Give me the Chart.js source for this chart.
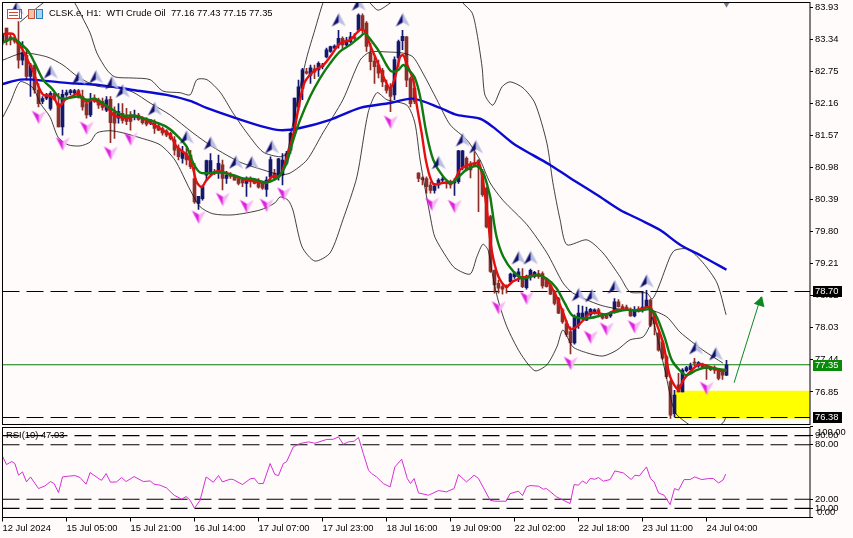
<!DOCTYPE html>
<html>
<head>
<meta charset="utf-8">
<title>CLSK.e H1</title>
<script src="https://cdn.jsdelivr.net/npm/chart.js@4/dist/chart.umd.min.js"></script>
<style>
  html, body { margin: 0; padding: 0; background: #fffbfb; overflow: hidden; }
  canvas { position: absolute; left: 0; }
  #main { top: 0; }
  #rsi { top: 424px; }
</style>
</head>
<body>
<canvas id="main" width="853" height="427"></canvas>
<canvas id="rsi" width="853" height="114"></canvas>
<script>
const opens = [
  83.28,83.55,83.39,83.35,83.27,82.96,83.05,82.66,82.87,82.41,
  82.20,82.26,82.07,82.35,82.16,81.73,82.32,82.36,82.35,82.40,
  82.29,82.16,81.95,82.26,82.23,82.20,82.04,82.24,82.01,81.89,
  81.98,81.92,81.95,81.91,81.95,81.89,81.87,81.80,81.80,81.75,
  81.70,81.66,81.61,81.49,81.34,81.15,81.24,81.21,80.78,80.32,
  80.41,80.84,80.88,80.91,80.91,81.03,80.78,80.85,80.81,80.78,
  80.75,80.69,80.78,80.75,80.72,80.69,80.58,80.81,80.88,80.81,
  80.84,81.06,81.30,81.64,82.10,82.44,82.75,82.68,82.80,82.78,
  82.84,83.02,83.12,83.18,83.24,83.36,83.24,83.30,83.39,83.51,
  83.78,83.64,83.09,82.94,82.87,82.77,82.50,82.46,82.32,83.00,
  83.32,83.39,82.62,82.44,80.88,80.79,80.78,80.66,80.56,80.66,
  80.75,80.72,80.72,80.70,80.72,81.00,81.15,81.03,81.06,81.11,
  80.91,80.60,80.08,79.09,78.85,78.79,78.79,78.88,78.97,78.97,
  78.98,78.77,78.97,78.97,79.03,79.03,78.91,78.82,78.70,78.57,
  78.36,78.11,77.96,77.75,78.08,78.20,78.17,78.27,78.30,78.36,
  78.27,78.25,78.25,78.33,78.51,78.42,78.41,78.36,78.25,78.38,
  78.35,78.42,78.54,78.30,77.93,77.77,77.50,77.04,76.45,76.98,
  76.85,77.24,77.26,77.39,77.33,77.35,77.33,77.30,77.30,77.24,77.24,77.16
]
const highs = [
  83.45,83.55,83.45,83.39,83.67,83.30,83.15,82.90,82.87,82.53,
  82.29,82.35,82.38,82.37,82.35,82.41,82.41,82.42,82.42,82.42,
  82.41,82.23,82.35,82.32,82.26,82.26,82.29,82.29,82.10,82.16,
  82.16,82.07,82.01,82.04,81.98,81.92,81.90,81.86,81.86,81.80,
  81.73,81.68,81.63,81.55,81.40,81.37,81.34,81.30,81.06,80.45,
  80.66,81.12,81.24,80.95,81.21,81.12,80.91,80.89,80.84,80.80,
  80.78,80.81,80.81,80.78,80.78,80.72,80.81,81.18,80.95,81.15,
  81.24,81.28,81.64,82.26,82.59,82.81,82.81,82.87,82.87,82.93,
  82.90,83.18,83.22,83.24,83.51,83.39,83.38,83.47,83.45,83.81,
  83.81,83.67,83.27,83.02,82.96,82.81,82.59,82.53,83.02,83.33,
  83.51,83.40,82.65,82.47,80.89,80.81,80.81,80.72,80.69,80.78,
  80.80,80.75,80.75,80.78,81.30,81.30,81.18,81.09,81.27,81.13,
  80.95,80.62,80.10,79.10,78.91,78.85,78.82,79.04,79.06,79.12,
  79.12,79.00,79.11,79.07,79.09,79.06,78.93,78.84,78.72,78.59,
  78.39,78.17,78.05,78.27,78.45,78.43,78.41,78.39,78.38,78.39,
  78.29,78.28,78.33,78.57,78.55,78.46,78.45,78.40,78.42,78.42,
  78.70,78.72,78.56,78.33,77.95,77.80,77.53,77.07,76.88,77.19,
  77.28,77.32,77.38,77.47,77.41,77.38,77.35,77.32,77.33,77.28,77.26,77.43
]
const lows = [
  83.24,83.24,83.24,83.27,82.81,82.87,82.59,82.29,82.35,82.10,
  82.16,82.23,82.04,82.22,81.73,81.58,82.29,82.32,82.33,82.26,
  82.04,81.89,81.92,82.18,82.07,82.04,82.01,81.44,81.52,81.80,
  81.80,81.77,81.67,81.86,81.85,81.78,81.75,81.77,81.61,81.66,
  81.58,81.55,81.49,81.21,81.12,81.06,81.03,80.96,80.32,80.21,
  80.38,80.75,80.84,80.85,80.78,80.57,80.69,80.78,80.75,80.66,
  80.63,80.45,80.62,80.68,80.60,80.58,80.45,80.75,80.75,80.75,
  80.66,81.03,81.24,81.61,82.04,82.23,82.70,82.53,82.62,82.66,
  82.80,83.00,83.10,83.17,83.18,83.15,83.22,83.27,83.33,83.48,
  83.45,83.12,82.78,82.53,82.63,82.47,82.35,82.01,82.23,82.84,
  83.15,82.47,82.10,82.16,80.72,80.66,80.51,80.51,80.51,80.60,
  80.70,80.60,80.60,80.47,80.69,80.94,80.92,80.79,81.00,80.17,
  80.45,79.87,79.05,78.67,78.67,78.65,78.67,78.86,78.94,78.88,
  78.77,78.74,78.91,78.95,78.94,78.76,78.78,78.64,78.45,78.29,
  78.11,77.87,77.55,77.73,78.02,78.17,78.16,78.21,78.28,78.27,
  78.19,78.20,78.22,78.30,78.41,78.37,78.35,78.24,78.23,78.32,
  78.32,78.40,78.05,77.90,77.60,77.45,77.10,76.36,76.39,76.85,
  76.85,77.22,77.25,77.33,77.30,77.28,77.08,77.24,77.19,77.07,77.08,77.15
]
const closes = [
  83.45,83.30,83.33,83.31,82.96,83.10,82.66,82.87,82.41,82.16,
  82.25,82.32,82.35,82.23,81.73,82.33,82.36,82.40,82.40,82.28,
  82.10,81.95,82.23,82.20,82.13,82.09,82.23,81.81,81.80,82.01,
  81.85,81.83,81.83,81.95,81.87,81.81,81.78,81.86,81.70,81.67,
  81.62,81.58,81.52,81.30,81.18,81.27,81.12,81.00,80.35,80.45,
  80.63,81.11,81.11,80.88,81.06,80.78,80.84,80.82,80.75,80.69,
  80.70,80.75,80.72,80.69,80.62,80.60,80.75,81.13,80.78,81.14,
  81.12,81.24,81.61,82.26,82.47,82.78,82.72,82.82,82.74,82.90,
  82.87,83.15,83.21,83.22,83.36,83.24,83.33,83.39,83.36,83.79,
  83.51,83.21,82.93,82.84,82.72,82.56,82.40,82.29,82.97,83.30,
  83.40,82.59,82.16,82.20,80.78,80.76,80.63,80.56,80.64,80.75,
  80.77,80.69,80.66,80.72,81.29,81.29,80.94,80.94,81.00,81.00,
  80.48,79.89,79.07,78.82,78.76,78.74,78.77,79.02,79.03,79.06,
  78.79,78.94,79.09,79.05,78.98,78.80,78.79,78.65,78.48,78.30,
  78.14,77.91,77.75,78.22,78.30,78.30,78.33,78.37,78.36,78.30,
  78.21,78.21,78.30,78.51,78.42,78.38,78.36,78.25,78.36,78.33,
  78.41,78.54,78.08,78.11,77.62,77.47,77.13,76.42,76.79,76.85,
  77.25,77.30,77.33,77.38,77.39,77.30,77.28,77.26,77.25,77.10,77.16,77.35
]

// indicator lines at their turning points (bar number + price)
const blueBars = [0,4.4,7.6,16,24.4,32.6,41,46.9,51,57.6,64.4,69.4,74.4,81.9,89.4,96.9,102.6,109.4,113.6,119.4,122.6,127.6,132.6,136.9,141.9,148.6,154.4,159.4,164.4,169.4,175.1,181]
const blueVals = [82.52,82.6,82.6,82.54,82.5,82.41,82.32,82.21,82.08,81.91,81.75,81.67,81.71,81.86,82.08,82.17,82.25,82.08,81.95,81.88,81.73,81.43,81.21,81.03,80.79,80.48,80.2,80.02,79.83,79.56,79.34,79.1]

const redBars = [0.2,2.7,3.5,4.8,6.5,7.7,9,10.2,11.9,13.1,14.2,15.6,17.3,19,20.2,21.5,22.7,24.4,26.1,27.7,29.4,31.1,32.7,34.4,36.9,39.4,41.9,43.5,46.1,47.5,48.5,49.8,51,53.5,56,58.5,61,63.5,66,67.3,69.4,
  70.6,71.9,73.1,74.4,75.6,77.7,80.2,81.9,84.4,86.9,89.4,90.6,91.9,93.5,95.2,96.9,98.1,99.4,100.2,101,102.7,103.5,104.8,106,107.7,110.2,112.7,114.4,116.5,119,
  119.8,121,122.3,124,125.9,127.7,130.2,133.5,135.2,136.9,138.5,140.2,141.9,143.5,145.2,146.9,149,151,153.1,156,158.5,161.9,163.5,165.2,166.9,169,170.2,172.7,174.4,176.9,179.4,181]
const redVals = [83.44,83.44,83.3,83.18,82.93,82.75,82.47,82.32,82.3,82.23,82.1,82.23,82.29,82.35,82.21,82.2,82.24,82.16,82.1,81.95,81.91,81.89,81.92,81.91,81.81,81.7,81.58,81.37,81.21,81,80.72,80.62,80.75,80.91,80.88,80.81,80.75,80.72,80.7,80.81,80.84,
  81.06,81.37,81.73,82.23,82.56,82.75,82.87,83.02,83.27,83.33,83.52,83.49,83.24,82.96,82.66,82.44,82.63,83.02,83.05,82.9,82.59,82.16,81.61,81.06,80.68,80.7,80.72,80.94,81.03,81.06,
  80.88,80.26,79.46,78.97,78.79,78.89,78.96,79,78.97,78.82,78.6,78.3,78.01,78.05,78.17,78.3,78.3,78.27,78.35,78.37,78.35,78.41,78.11,77.74,77.13,76.89,77.07,77.28,77.36,77.31,77.24,77.24]

const greenBars = [0,2.7,4.4,6.5,8.1,10.2,12.3,14.4,16.5,19,21,23.1,25.2,27.7,30.2,32.7,35.2,37.7,41,43.5,46,47.7,49.4,51.9,54.4,57.7,60.2,62.7,66,68.5,
  69.4,71,72.7,74.4,76.9,79.4,81.9,84.4,86.9,89.4,90.6,92.7,94.4,96,97.3,99,100.2,101.9,103.1,104.4,106,107.7,110.2,112.3,114,116,118.5,120.2,121.9,
  122.3,123.5,125.2,127.7,130.2,133.5,136,138.5,140.6,142.3,144.4,146.9,150.2,153.1,156,159.4,161.9,163.5,165.6,167.3,169.4,171,173.5,176,178.5,181]
const greenVals = [83.28,83.36,83.27,83.12,82.9,82.59,82.44,82.26,82.26,82.29,82.23,82.25,82.16,82.04,81.94,81.94,81.89,81.83,81.73,81.58,81.37,81.06,80.89,80.88,80.89,80.84,80.78,80.77,80.71,80.78,
  80.84,81.06,81.49,81.86,82.29,82.63,82.9,83.12,83.24,83.39,83.45,83.27,83.09,82.87,82.75,82.78,82.87,82.75,82.63,82.29,81.61,81.12,80.81,80.7,80.81,80.94,81.01,80.88,80.45,
  80.26,79.71,79.34,79.07,78.94,79,78.94,78.76,78.48,78.27,78.21,78.21,78.27,78.32,78.36,78.35,78.37,78.24,77.84,77.44,77.24,77.16,77.25,77.3,77.28,77.25]

const upperBars = [4.4,10.1,13.9,16.9,18.1,19.9,21.9,23.6,26.1,28.1,32.6,36.9,40.1,44.4,46.9,48.6,51.1,54.4,57.6,61.1,65.1,69.4,71.1,72.6,74.4,76.1,78.1,80.1,81.1,89.4,91.9,93.9,96.9,99.4,113.1,115.1,117.4,118.6,119.9,120.6,122.6,124.9,126.9,130.1,133.1,136.1,137.6,139.4,141.1,146.1,150.1,154.4,156.9,161.1,162.4,163.9,166.9,168.1,171.4,175.1,178.6,180.9]
const upperVals = [83.66,84.01,84.18,84.14,84.01,83.755,83.46,83.09,82.78,82.65,82.63,82.6,82.39,82.36,82.32,82.6,82.6,82.37,81.99,81.62,81.27,81.18,81.25,81.8,82.47,83.02,83.52,84.01,84.14,84.18,84.01,83.88,84.01,84.16,84.18,84.01,83.83,83.46,82.83,82.32,82.13,82.47,82.56,82.45,82.17,81.43,80.7,80.02,79.56,79.65,79.41,78.97,78.69,78.67,78.56,78.76,79.34,79.46,79.48,79.23,78.86,78.27]

const middleBars = [0.1,5.1,11.1,15.1,18.9,23.6,28.6,32.6,36.9,41.9,47.6,52.6,59.4,65.1,69.4,71.9,76.1,80.1,85.1,89.4,91.9,96.1,100.1,102.6,105.1,108.6,111.9,116.1,119.4,121.9,125.1,131.1,136.1,140.1,142.6,149.4,155.6,161.9,166.1,169.4,175.1,180.1]
const middleVals = [82.96,83.09,83.02,82.87,82.65,82.48,82.45,82.37,82.17,81.95,81.62,81.36,81.08,80.94,80.85,80.88,81.12,81.62,82.23,82.96,83.11,83.11,83.09,83.02,82.72,82.23,81.77,81.49,81.12,80.7,80.38,79.93,79.41,78.86,78.67,78.45,78.36,78.36,78.23,77.95,77.62,77.38]

const lowerBars = [0.1,1.9,4.4,7.6,9.4,11.9,13.9,16.4,19.4,21.9,23.6,26.9,30.1,34.4,39.4,43.1,46.9,49.4,52.6,57.6,64.4,68.1,69.4,71.4,72.6,74.9,78.1,81.9,85.1,88.6,91.4,93.6,96.1,101.1,103.1,104.4,107.1,108.1,111.1,113.1,116.9,118.6,120.1,121.4,122.6,123.9,126.1,129.4,133.1,136.1,138.6,140.1,142.6,146.1,150.1,153.6,156.9,160.1,161.9,162.4,165.6,168.1,171.4,175.6,180.1,180.9]
const lowerVals = [81.91,82.17,82.56,82.45,82.17,81.91,81.54,81.4,81.38,81.45,81.62,81.66,81.62,81.53,81.4,81.12,80.57,80.26,80.13,80.11,80.2,80.33,80.44,80.38,80.2,79.52,79.26,79.41,80.02,80.81,81.99,82.36,82.23,82.13,81.8,81.12,80.02,79.7,79.32,79.13,79.02,79.34,79.57,79.46,78.97,78.54,78.05,77.57,77.24,77.35,77.68,77.99,77.68,77.57,77.51,77.62,77.81,77.86,78.08,78.23,77.25,76.48,76.26,76.06,76.28,76.39]

// fractal arrows
const upBars = [3.6,12.1,19.1,23.4,27.4,30.1,38.1,46.1,52.1,58.4,62.4,67.4,84.1,89.1,100.1,109.1,115.1,118.4,129.1,132.1,144.1,147.4,153.1,161.1,173.4,178.4]
const upVals = [83.92,82.74,82.63,82.65,82.54,82.39,82.06,81.54,81.43,81.08,81.07,81.36,83.7,83.99,83.7,81.07,81.49,81.36,79.32,79.32,78.64,78.62,78.78,78.89,77.66,77.55]
const downBars = [9.1,15.1,21.1,27.1,32.1,49.1,55.1,61.1,66.1,70.4,97.1,107.4,113.1,124.1,131.1,142.1,147.1,151.1,158.1,176.1]
const downVals = [81.91,81.42,81.71,81.25,81.51,80.07,80.4,80.27,80.29,80.5,81.82,80.31,80.27,78.4,78.58,77.38,77.86,78.01,78.05,76.92]

const rsiBars = [0,1,2.3,3.1,4,5,6,7,9,10.6,12,12.9,14,15,16.5,18.1,19.4,20.9,21.9,24.4,24.8,25.9,27,28.5,29.8,30.9,32.9,35.2,36.9,37.9,39.4,41,42.9,44.8,45.9,46.9,48,49.4,50.9,52.7,54,55,56.9,57.7,60,61.9,62.9,64,65.2,66.9,68.1,69,70.2,71,72.7,74.4,76.5,78.1,81,82.7,84,85.2,86.5,87.9,89,90.2,91.5,92.3,93.5,95.2,96.9,98.1,99.8,101.2,102,102.9,104,106.5,
  109,111,112.9,114,116,117.9,119,121.9,123.1,125.9,126.9,129,130,131,131.9,134,135.2,136,138.5,140.2,141.9,142.9,144,145,146,146.9,148.1,149,150.2,151.9,153.1,155.2,157.2,158.1,159.2,161,162,162.9,164,165.4,166.9,168,169,170.4,171.9,173,174.8,176.5,177.7,179,180.1,180.8]
const rsiVals = [67.3,58.2,61.5,59.3,46.5,50.1,39.1,44.6,31.8,34.7,39.5,37.3,27.4,44.6,45.4,46.1,43.9,36.6,49.4,41.7,41,48.3,38.8,39.1,43.9,39.5,45,39.5,40.2,36.6,35.5,32.5,24.5,20.1,23,19,10.2,19,44.6,38.8,46.1,39.1,42.1,41.7,36.2,42.4,43.2,37.3,37.3,59.3,47.2,46.1,59.3,61.1,77.6,81.3,83.1,81.6,85.7,86,88.6,80.5,83.1,83.8,87.9,70.3,52,48.3,44.6,37.3,33.6,55.6,64,42.8,37.3,42.8,27,24.5,
  29.6,28.2,31.8,47.2,39.1,46.5,42.8,19,17.9,17.9,26.3,28.9,24.1,33.6,35.1,34.4,31.1,31.8,22.7,19,15.3,36.2,35.5,40.2,37.3,42.8,42.1,43.9,39.9,41.7,51.2,49,41.7,46.5,45.7,55.6,42.8,39.1,27,24.5,14.2,31.8,30,41.7,41.7,44.6,41.7,42.8,42.8,38,41,47.6]

const priceTicks = [83.93,83.34,82.75,82.16,81.57,80.98,80.39,79.80,79.21,78.62,78.03,77.44,76.85]
const rsiTicks = [100,90,80,20,10,0]
const timeBars = [0,16,32,48,64,80,96,112,128,144,160,176]
const timeLabels = ['12 Jul 2024','15 Jul 05:00','15 Jul 21:00','16 Jul 14:00','17 Jul 07:00','17 Jul 23:00','18 Jul 16:00','19 Jul 09:00','22 Jul 02:00','22 Jul 18:00','23 Jul 11:00','24 Jul 04:00']

const dashedPrices = [78.70, 76.38]
const lastPrice = 77.35
const zoneTop = 76.87
const zoneBottom = 76.36
const zoneStart = 168.2
const arrowBars = [182.9, 189.6]
const arrowVals = [77.02, 78.6]
const arrowHead = { x: 189.4, y: 78.5 }
const lastMark = { x: 181, y: 84.0 }
const chartTitle = 'CLSK.e, H1:  WTI Crude Oil  77.16 77.43 77.15 77.35'
const rsiTitle = 'RSI(10) 47.03'

const X_MAX = 201.875
const AXIS_FONT = { family: '"Liberation Sans", sans-serif', size: 9.4 }
const TEXT_FONT = '9.4px "Liberation Sans", sans-serif'
const BULL = '#14196e'
const BEAR = '#8a2f2a'

const zip = (xs, ys) => xs.map((x, i) => ({ x, y: ys[i] }))
const hLine = (y, color, dash, order) => ({
  type: 'line',
  data: [{ x: 0, y }, { x: X_MAX, y }],
  borderColor: color,
  borderWidth: 1.1,
  borderDash: dash,
  pointRadius: 0,
  order,
})
const thinLine = (xs, ys, order) => ({
  type: 'line',
  data: zip(xs, ys),
  borderColor: '#111',
  borderWidth: 0.8,
  pointRadius: 0,
  tension: 0.25,
  order,
})
const thickLine = (xs, ys, color, order) => ({
  type: 'line',
  data: zip(xs, ys),
  borderColor: color,
  borderWidth: 2.4,
  pointRadius: 0,
  tension: 0.3,
  order,
})

// MT4 style wingdings arrows: one dark half, one pale half
const arrowSprite = (dark, pale, flip) => {
  const c = document.createElement('canvas')
  c.width = 15
  c.height = 15
  const g = c.getContext('2d')
  if (flip) {
    g.translate(15, 15)
    g.rotate(Math.PI)
  }
  g.fillStyle = flip ? pale : dark
  g.beginPath()
  g.moveTo(7.5, 0.5)
  g.lineTo(0.5, 14)
  g.lineTo(7.5, 10)
  g.closePath()
  g.fill()
  g.fillStyle = flip ? dark : pale
  g.beginPath()
  g.moveTo(7.5, 0.5)
  g.lineTo(14.5, 14)
  g.lineTo(7.5, 10)
  g.closePath()
  g.fill()
  return c
}

const frame = {
  id: 'frame',
  afterDraw(chart) {
    const { ctx, chartArea: a } = chart
    const top = Math.round(a.top)
    ctx.save()
    ctx.strokeStyle = '#000'
    ctx.lineWidth = 1
    ctx.strokeRect(a.left, top + 0.5, a.right - a.left, Math.floor(a.bottom) - top)
    ctx.restore()
  },
}

const priceBox = (chart, value, bg) => {
  const { ctx, scales } = chart
  const y = Math.round(scales.y.getPixelForValue(value))
  ctx.fillStyle = bg
  ctx.fillRect(813, y - 5, 29, 11)
  ctx.fillStyle = '#fff'
  ctx.font = TEXT_FONT
  ctx.textAlign = 'left'
  ctx.textBaseline = 'middle'
  ctx.fillText(value.toFixed(2), 815, y + 0.5)
}

const header = {
  id: 'header',
  afterDraw(chart) {
    const { ctx } = chart
    ctx.save()
    // toolbar glyphs left of the title
    ctx.lineWidth = 1
    ctx.strokeStyle = '#d04a3a'
    ctx.fillStyle = '#fff'
    ctx.fillRect(7.5, 9.5, 12, 9)
    ctx.strokeRect(7.5, 9.5, 12, 9)
    ctx.beginPath()
    ctx.moveTo(9, 12.5); ctx.lineTo(18, 12.5)
    ctx.moveTo(9, 15.5); ctx.lineTo(18, 15.5)
    ctx.stroke()
    ctx.strokeStyle = '#2a7fb8'
    ctx.strokeRect(19.5, 9.5, 2, 9)
    ctx.fillStyle = '#f3c3a8'
    ctx.strokeStyle = '#c8553a'
    ctx.fillRect(28.5, 9.5, 6, 9)
    ctx.strokeRect(28.5, 9.5, 6, 9)
    ctx.fillStyle = '#a8d4ec'
    ctx.strokeStyle = '#2a7fb8'
    ctx.fillRect(36.5, 9.5, 6, 9)
    ctx.strokeRect(36.5, 9.5, 6, 9)

    ctx.fillStyle = '#000'
    ctx.font = TEXT_FONT
    ctx.textAlign = 'left'
    ctx.textBaseline = 'middle'
    ctx.fillText(chartTitle, 49, 13.5)

    priceBox(chart, 78.70, '#000')
    priceBox(chart, lastPrice, '#0a8a0a')
    priceBox(chart, 76.38, '#000')
    ctx.restore()
  },
}

const rsiHeader = {
  id: 'rsiHeader',
  afterDraw(chart) {
    const { ctx, scales } = chart
    ctx.save()
    ctx.fillStyle = '#000'
    ctx.font = TEXT_FONT
    ctx.textBaseline = 'middle'
    ctx.textAlign = 'left'
    ctx.fillText(rsiTitle, 6, 11)
    // the end labels are pushed inside the panel by the terminal
    ctx.fillText('100.00', 817, scales.y.getPixelForValue(100) + 5.5)
    ctx.fillText('0.00', 817, scales.y.getPixelForValue(0) - 5)
    ctx.restore()
  },
}

// fixed axis size and no margin taken for overhanging end labels
const fixedAxis = (size) => (scale) => {
  if (scale.axis === 'y') scale.width = size
  else scale.height = size
  scale.paddingTop = 0
  scale.paddingBottom = 0
  scale.paddingLeft = 0
  scale.paddingRight = 0
}

new Chart(document.getElementById('main'), {
  type: 'bar',
  plugins: [frame, header],
  data: {
    datasets: [
      {
        type: 'line',
        label: 'zone',
        data: [{ x: zoneStart, y: zoneTop }, { x: X_MAX, y: zoneTop }],
        borderWidth: 0,
        pointRadius: 0,
        backgroundColor: '#ffff00',
        fill: { value: zoneBottom },
        order: 30,
      },
      hLine(dashedPrices[0], '#000', [17, 7], 29),
      hLine(dashedPrices[1], '#000', [17, 7], 29),
      hLine(lastPrice, '#0a7d0a', [], 28),
      {
        label: 'wicks',
        data: closes.map((_, i) => ({ x: i, y: [lows[i], highs[i]] })),
        backgroundColor: (c) => (closes[c.dataIndex] >= opens[c.dataIndex] ? BULL : BEAR),
        barThickness: 1,
        grouped: false,
        order: 20,
      },
      {
        label: 'bodies',
        data: closes.map((_, i) => ({ x: i, y: [opens[i], closes[i]] })),
        backgroundColor: (c) => (closes[c.dataIndex] >= opens[c.dataIndex] ? BULL : BEAR),
        barThickness: 3,
        minBarLength: 1,
        grouped: false,
        order: 19,
      },
      thinLine(upperBars, upperVals, 15),
      thinLine(middleBars, middleVals, 15),
      thinLine(lowerBars, lowerVals, 15),
      thickLine(blueBars, blueVals, '#0a0ad2', 12),
      thickLine(redBars, redVals, '#e60f0f', 11),
      thickLine(greenBars, greenVals, '#0f7a0f', 10),
      {
        type: 'line',
        label: 'fractal up',
        data: zip(upBars, upVals),
        showLine: false,
        pointStyle: arrowSprite('#10106e', '#b9bfe2', false),
        order: 8,
      },
      {
        type: 'line',
        label: 'fractal down',
        data: zip(downBars, downVals),
        showLine: false,
        pointStyle: arrowSprite('#e020e0', '#f6b8f2', true),
        order: 8,
      },
      {
        type: 'line',
        label: 'target',
        data: zip(arrowBars, arrowVals),
        borderColor: '#0a8a20',
        borderWidth: 1,
        pointRadius: 0,
        order: 6,
      },
      {
        type: 'line',
        label: 'target head',
        data: [arrowHead],
        showLine: false,
        pointStyle: 'triangle',
        pointRadius: 6.5,
        pointRotation: 18,
        pointBackgroundColor: '#0a8a20',
        pointBorderWidth: 0,
        order: 5,
      },
      {
        type: 'line',
        label: 'last bar mark',
        data: [lastMark],
        showLine: false,
        pointStyle: 'triangle',
        pointRadius: 4,
        pointRotation: 180,
        pointBackgroundColor: '#707a88',
        pointBorderWidth: 0,
        order: 5,
      },
    ],
  },
  options: {
    responsive: false,
    animation: false,
    devicePixelRatio: 1,
    layout: { autoPadding: false, padding: { left: 2.5, top: 2, right: 0, bottom: 2.5 } },
    plugins: { legend: { display: false }, tooltip: { enabled: false } },
    events: [],
    scales: {
      x: { type: 'linear', min: 0, max: X_MAX, offset: false, display: false },
      y: {
        position: 'right',
        min: 76.25,
        max: 84.03,
        afterFit: fixedAxis(43),
        afterBuildTicks: (scale) => { scale.ticks = priceTicks.map((value) => ({ value })) },
        grid: { drawOnChartArea: false, color: '#000', tickLength: 3 },
        border: { display: false },
        ticks: {
          font: AXIS_FONT,
          color: '#000',
          padding: 2,
          autoSkip: false,
          callback: (v) => v.toFixed(2),
        },
      },
    },
  },
})

new Chart(document.getElementById('rsi'), {
  type: 'line',
  plugins: [frame, rsiHeader],
  data: {
    datasets: [
      hLine(90, '#000', [17, 7], 5),
      hLine(80, '#000', [17, 7], 5),
      hLine(20, '#000', [17, 7], 5),
      hLine(10, '#000', [17, 7], 5),
      {
        label: 'RSI(10)',
        data: zip(rsiBars, rsiVals),
        borderColor: '#d62fd6',
        borderWidth: 1,
        pointRadius: 0,
        order: 1,
      },
    ],
  },
  options: {
    responsive: false,
    animation: false,
    devicePixelRatio: 1,
    layout: { autoPadding: false, padding: { left: 2.5, top: 2.5, right: 0, bottom: 0 } },
    plugins: { legend: { display: false }, tooltip: { enabled: false } },
    events: [],
    scales: {
      x: {
        type: 'linear',
        min: 0,
        max: X_MAX,
        afterFit: fixedAxis(20.5),
        afterBuildTicks: (scale) => { scale.ticks = timeBars.map((value) => ({ value })) },
        grid: { drawOnChartArea: false, color: '#000', tickLength: 4 },
        border: { display: false },
        ticks: {
          font: AXIS_FONT,
          color: '#000',
          align: 'start',
          padding: 1,
          maxRotation: 0,
          autoSkip: false,
          callback: (v) => timeLabels[timeBars.indexOf(v)],
        },
      },
      y: {
        position: 'right',
        min: 0,
        max: 100,
        afterFit: fixedAxis(43),
        afterBuildTicks: (scale) => { scale.ticks = rsiTicks.map((value) => ({ value })) },
        grid: { drawOnChartArea: false, color: '#000', tickLength: 3 },
        border: { display: false },
        ticks: {
          font: AXIS_FONT,
          color: '#000',
          padding: 2,
          autoSkip: false,
          callback: (v) => (v === 100 || v === 0 ? '' : v.toFixed(2)),
        },
      },
    },
  },
})
</script>
</body>
</html>
